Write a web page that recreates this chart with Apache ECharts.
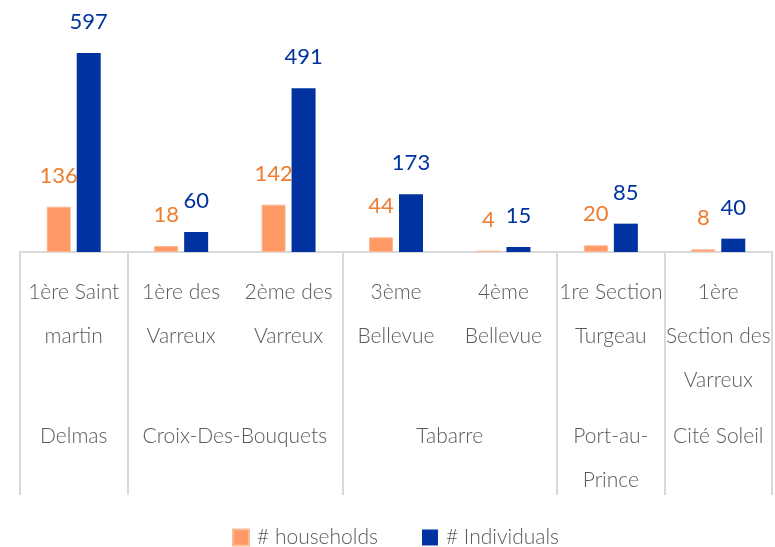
<!DOCTYPE html>
<html>
<head>
<meta charset="utf-8">
<script src="https://cdn.jsdelivr.net/npm/echarts@6/dist/echarts.min.js"></script>
<style>
  html, body { margin: 0; padding: 0; background: #fff; }
  #chart { width: 775px; height: 547px; }
</style>
</head>
<body>
<div id="chart"></div>
<script>
// sub-categories (neighbourhoods) and their communes
const sections = [
  '1ère Saint\nmartin',
  '1ère des\nVarreux',
  '2ème des\nVarreux',
  '3ème\nBellevue',
  '4ème\nBellevue',
  '1re Section\nTurgeau',
  '1ère\nSection des\nVarreux'
];
// commune names and how many sections each one spans
const communes = ['Delmas', 'Croix-Des-Bouquets', 'Tabarre', 'Port-au-\nPrince', 'Cité Soleil'];
const communeSpan = [1, 2, 2, 1, 1];

const households = [136, 18, 142, 44, 4, 20, 8];
const individuals = [597, 60, 491, 173, 15, 85, 40];

const FONT = 'Lato, "Open Sans", sans-serif';

// second axis works in half-section steps: label sits at the middle of each
// commune, tick at each commune boundary
const halfSlots = [];
const boundaries = new Set([0]);
const labelAt = {};
let pos = 0;
communeSpan.forEach((n, i) => {
  labelAt[pos + n] = communes[i];
  pos += 2 * n;
  boundaries.add(pos);
});
for (let i = 0; i <= 2 * sections.length; i++) {
  halfSlots.push(labelAt[i] || '');
}

const chart = echarts.init(document.getElementById('chart'));
const option = {
  animation: false,
  legend: {
    bottom: -1,
    left: 232,
    padding: 0,
    itemWidth: 16,
    itemHeight: 16,
    itemGap: 44,
    icon: 'rect',
    textStyle: { fontFamily: FONT, fontSize: 21, fontWeight: 300, color: '#595959', padding: [0, 0, 0, 3] },
    data: ['# households', '# Individuals']
  },
  grid: { left: 20, right: 3, top: 52, bottom: 295, containLabel: false },
  xAxis: [
    {
      type: 'category',
      data: sections,
      axisLine: { lineStyle: { color: '#d9d9d9', width: 2 } },
      axisTick: { show: false },
      axisLabel: {
        interval: 0,
        margin: 18,
        fontFamily: FONT,
        fontSize: 21,
        fontWeight: 300,
        color: '#595959',
        lineHeight: 44
      }
    },
    {
      type: 'category',
      position: 'bottom',
      boundaryGap: false,
      data: halfSlots,
      axisLine: { show: false },
      axisTick: {
        show: true,
        length: 243,
        interval: (idx) => boundaries.has(idx),
        lineStyle: { color: '#d9d9d9', width: 2 }
      },
      axisLabel: {
        interval: 0,
        margin: 162,
        fontFamily: FONT,
        fontSize: 21,
        fontWeight: 300,
        color: '#595959',
        lineHeight: 44
      }
    }
  ],
  yAxis: {
    type: 'value',
    min: 0,
    max: 600,
    show: false,
    splitLine: { show: false }
  },
  series: [
    {
      name: '# households',
      type: 'bar',
      data: households,
      barWidth: 24,
      barGap: '25%',
      itemStyle: { color: '#FF9966', borderColor: '#FFB894', borderWidth: 1 },
      label: {
        show: true,
        position: 'top',
        distance: 20,
        fontFamily: FONT,
        fontSize: 22,
        color: '#ED7D31'
      }
    },
    {
      name: '# Individuals',
      type: 'bar',
      data: individuals,
      barWidth: 24,
      itemStyle: { color: '#0033A0' },
      label: {
        show: true,
        position: 'top',
        distance: 20,
        fontFamily: FONT,
        fontSize: 22,
        color: '#0033A0'
      }
    }
  ]
};
chart.setOption(option);
</script>
</body>
</html>
